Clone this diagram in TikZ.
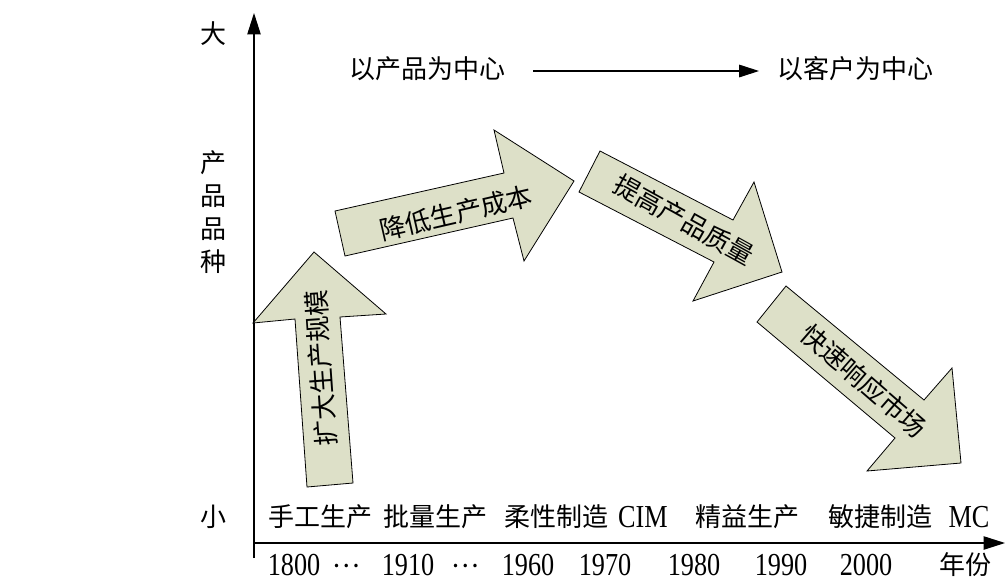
\documentclass[tikz,border=0pt]{standalone}
\usepackage{fontspec}
\newfontfamily\cjk{Noto Sans CJK SC}
\newfontfamily\numf[FakeStretch=0.82]{Liberation Serif}
\usetikzlibrary{arrows.meta}
\definecolor{arrowfill}{RGB}{221,224,200}
\begin{document}
\begin{tikzpicture}[x=0.75pt,y=-0.75pt,
  cn/.style={font=\cjk\fontsize{19.5}{20}\selectfont, inner sep=0pt},
  yr/.style={font=\numf\fontsize{24}{24}\selectfont, inner sep=0pt},
  blk/.style={draw=black, line width=0.6pt, fill=arrowfill, line join=miter},
  axisline/.style={line width=0.9pt, -{Triangle[length=16pt,width=10pt]}},
  flowline/.style={line width=0.8pt, -{Triangle[length=15pt,width=9.5pt]}}]
\useasboundingbox (0,0) rectangle (1005,579);

% axes
\coordinate (yb) at (254,558);
\coordinate (yt) at (254,13);
\coordinate (xl) at (254,543);
\coordinate (xr) at (1005,543);
\draw[axisline] (yb) -- (yt);
\draw[axisline] (xl) -- (xr);

% top labels
\node[cn] (prod) at (427,69) {以产品为中心};
\node[cn] (cust) at (855,69) {以客户为中心};
\coordinate (fa) at (533,71);
\coordinate (fb) at (759,71);
\draw[flowline] (fa) -- (fb);

% block arrows
\draw[blk] (307,487) -- (295,319) -- (253,323) -- (314,252) -- (386,314) -- (340,317) -- (353,483) -- cycle;
\draw[blk] (345,256) -- (335,211) -- (504,173) -- (494,130) -- (574,181) -- (524,261) -- (513,218) -- cycle;
\draw[blk] (600,151) -- (579,192) -- (714,262) -- (693,301) -- (782,272) -- (754,182) -- (733,220) -- cycle;
\draw[blk] (786,286) -- (757,322) -- (895,438) -- (867,471) -- (961,463) -- (952,368) -- (924,400) -- cycle;

\node[cn, rotate=94] (a1) at (321,368) {扩大生产规模};
\node[cn, rotate=13] (a2) at (456,213) {降低生产成本};
\node[cn, rotate=-29] (a3) at (684,220) {提高产品质量};
\node[cn, rotate=-41] (a4) at (864,381) {快速响应市场};

% left labels
\node[cn] (big) at (213,34) {大};
\node[cn] (v1) at (213,163) {产};
\node[cn] (v2) at (213,196) {品};
\node[cn] (v3) at (213,229) {品};
\node[cn] (v4) at (213,262) {种};
\node[cn] (small) at (213,517) {小};

% bottom labels
\node[cn] (m1) at (320,517) {手工生产};
\node[cn] (m2) at (435,517) {批量生产};
\node[cn] (m3) at (556,517) {柔性制造};
\node[yr] (m4) at (643,517) {CIM};
\node[cn] (m5) at (747,517) {精益生产};
\node[cn] (m6) at (880,517) {敏捷制造};
\node[yr] (m7) at (969,517) {MC};

% years
\node[yr] (y1) at (294,565) {1800};
\node[cn] (d1) at (346,566) {…};
\node[yr] (y2) at (408,565) {1910};
\node[cn] (d2) at (465,566) {…};
\node[yr] (y3) at (528,565) {1960};
\node[yr] (y4) at (605,565) {1970};
\node[yr] (y5) at (694,565) {1980};
\node[yr] (y6) at (781,565) {1990};
\node[yr] (y7) at (866,565) {2000};
\node[cn] (yl) at (965,565) {年份};
\end{tikzpicture}
\end{document}
